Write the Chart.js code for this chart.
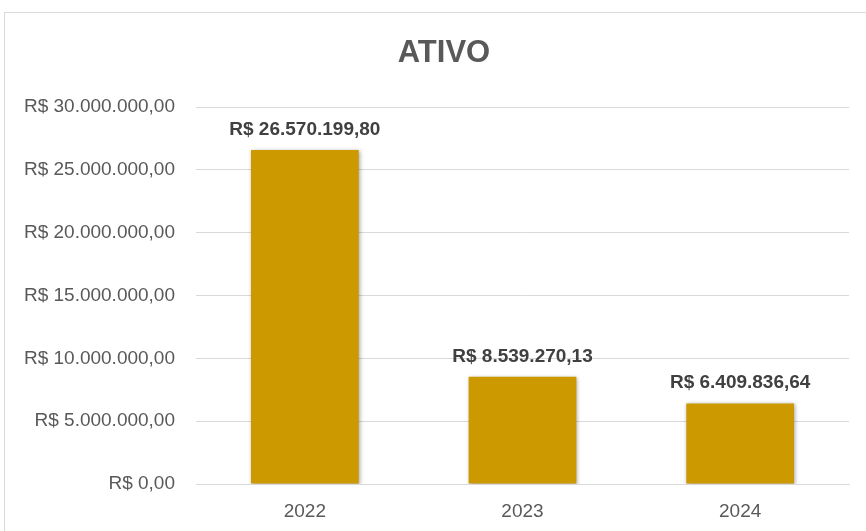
<!DOCTYPE html>
<html>
<head>
<meta charset="utf-8">
<script src="https://cdn.jsdelivr.net/npm/chart.js@4"></script>
<style>
  body { margin: 0; background: #fff; overflow: hidden; }
  #frame { position: absolute; left: 4px; top: 12px; width: 900px; height: 600px; border: 1px solid #d9d9d9; }
  #wrap { position: absolute; left: 0; top: 0; width: 866px; height: 531px; }
</style>
</head>
<body>
<div id="frame"></div>
<div id="wrap"><canvas id="chart" width="866" height="531"></canvas></div>
<script>
// dados
const anos = ['2022', '2023', '2024'];
const ativo = [26570199.80, 8539270.13, 6409836.64];
const titulo = 'ATIVO';
const eixoMax = 30000000;
const eixoPasso = 5000000;

function brl(v) {
    const parts = v.toFixed(2).split('.');
    const inteiro = parts[0].replace(/\B(?=(\d{3})+(?!\d))/g, '.');
    return 'R$ ' + inteiro + ',' + parts[1];
}

// título (centrado no quadro do Excel, não na área do gráfico)
const tituloPlugin = {
    id: 'tituloPlugin',
    afterDraw(chart) {
        const ctx = chart.ctx;
        ctx.save();
        ctx.font = 'bold 31px "Liberation Sans", Arial, sans-serif';
        ctx.fillStyle = '#595959';
        ctx.textAlign = 'center';
        ctx.textBaseline = 'middle';
        ctx.fillText(titulo, 444, 53);
        ctx.restore();
    }
};

// rótulos acima das barras
const rotulos = {
    id: 'rotulos',
    afterDatasetsDraw(chart) {
        const ctx = chart.ctx;
        const meta = chart.getDatasetMeta(0);
        ctx.save();
        ctx.font = 'bold 19px "Liberation Sans", Arial, sans-serif';
        ctx.fillStyle = '#404040';
        ctx.textAlign = 'center';
        ctx.textBaseline = 'alphabetic';
        meta.data.forEach((bar, i) => {
            ctx.fillText(brl(ativo[i]), bar.x, bar.y - 15);
        });
        ctx.restore();
    }
};

// sombra leve nas barras
const sombra = {
    id: 'sombra',
    beforeDatasetsDraw(chart) {
        const ctx = chart.ctx;
        ctx.save();
        ctx.shadowColor = 'rgba(0,0,0,0.35)';
        ctx.shadowBlur = 4;
        ctx.shadowOffsetX = 1;
        ctx.shadowOffsetY = 1;
    },
    afterDatasetsDraw(chart) {
        chart.ctx.restore();
    }
};

new Chart(document.getElementById('chart'), {
    type: 'bar',
    data: {
        labels: anos,
        datasets: [{
            data: ativo,
            backgroundColor: '#cc9900',
            borderWidth: 0,
            categoryPercentage: 1,
            barPercentage: 0.495
        }]
    },
    options: {
        responsive: false,
        animation: false,
        layout: { padding: { left: 0, right: 17, top: 107, bottom: 0 } },
        plugins: {
            legend: { display: false },
            tooltip: { enabled: false },
            title: { display: false }
        },
        scales: {
            x: {
                grid: { display: false, drawTicks: false },
                border: { color: '#d9d9d9', width: 1 },
                ticks: {
                    color: '#595959',
                    padding: 16,
                    font: { family: '"Liberation Sans", Arial, sans-serif', size: 19 }
                },
                afterFit(scale) { scale.height = 47; }
            },
            y: {
                min: 0,
                max: eixoMax,
                grid: { color: '#d9d9d9', drawTicks: false },
                border: { display: false },
                ticks: {
                    stepSize: eixoPasso,
                    color: '#595959',
                    padding: 21,
                    font: { family: '"Liberation Sans", Arial, sans-serif', size: 19 },
                    callback: v => brl(v)
                },
                afterFit(scale) { scale.width = 196; }
            }
        }
    },
    plugins: [sombra, rotulos, tituloPlugin]
});
</script>
</body>
</html>
